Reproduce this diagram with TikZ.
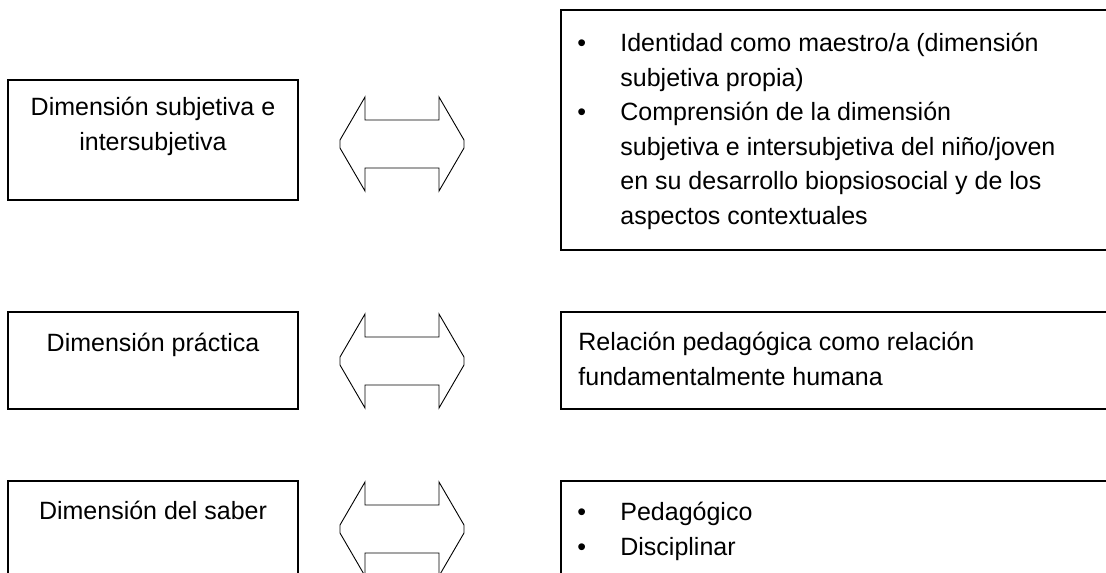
\documentclass[tikz,border=0pt]{standalone}
\usepackage{fontspec}
\setmainfont{Liberation Sans}
\usetikzlibrary{positioning}

\newcommand{\dimbullet}{\makebox[43pt][l]{\textbullet}}

\tikzset{
  dimbox/.style={draw, rectangle, line width=1.6pt, inner sep=0pt},
  dimtext/.style={font=\fontsize{25}{35}\selectfont, inner sep=0pt, align=center},
  itemtext/.style={font=\fontsize{25}{34.5}\selectfont, inner sep=0pt, align=left},
  dimarrow/.pic={
    \draw[line width=0.9pt, line join=miter] (-62,-4) -- (-37,-47) -- (-37,-24) -- (37,-24)
      -- (37,-47) -- (62,-4) -- (62,4) -- (37,47) -- (37,24) -- (-37,24)
      -- (-37,47) -- (-62,4) -- cycle;
  }
}

\begin{document}
\begin{tikzpicture}[x=1pt, y=-1pt]
    % the page
    \clip (0,0) rectangle (1106,573);

    % left column
    \node[dimbox, minimum width=290pt, minimum height=120pt] (subj) at (153,140) {};
    \node[dimbox, minimum width=290pt, minimum height=97pt]  (prac) at (153,360.5) {};
    \node[dimbox, minimum width=290pt, minimum height=120pt] (saber) at (153,541) {};

    \node[dimtext, below=18pt of subj.north]  (subjtxt)  {Dimensión subjetiva e\\intersubjetiva};
    \node[dimtext, below=22pt of prac.north]  (practxt)  {Dimensión práctica};
    \node[dimtext, below=21pt of saber.north] (sabertxt) {Dimensión del saber};

    % double arrows
    \pic at (402,144) {dimarrow};
    \pic at (402,361) {dimarrow};
    \pic at (402,529) {dimarrow};

    % right column
    \node[dimbox, minimum width=559pt, minimum height=240pt] (ident) at (840.5,130) {};
    \node[dimbox, minimum width=559pt, minimum height=97pt]  (rel)   at (840.5,360.5) {};
    \node[dimbox, minimum width=559pt, minimum height=120pt] (ped)   at (840.5,541) {};

    \node[itemtext, below right=24pt and 17pt of ident.north west] (identtxt) {%
      \dimbullet Identidad como maestro/a (dimensión\\
      \hspace*{43pt}subjetiva propia)\\
      \dimbullet Comprensión de la dimensión\\
      \hspace*{43pt}subjetiva e intersubjetiva del niño/joven\\
      \hspace*{43pt}en su desarrollo biopsiosocial y de los\\
      \hspace*{43pt}aspectos contextuales};
    \node[itemtext, below right=21pt and 18pt of rel.north west] (reltxt) {%
      Relación pedagógica como relación\\
      fundamentalmente humana};
    \node[itemtext, below right=22pt and 17pt of ped.north west] (pedtxt) {%
      \dimbullet Pedagógico\\
      \dimbullet Disciplinar};
\end{tikzpicture}
\end{document}
